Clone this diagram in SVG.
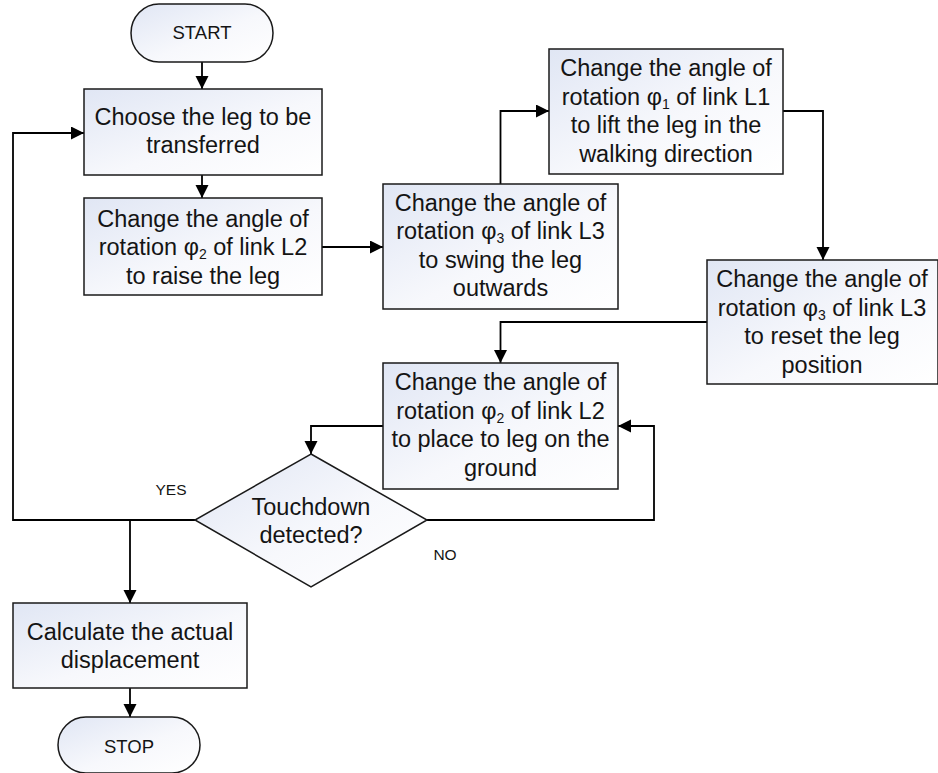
<svg xmlns="http://www.w3.org/2000/svg" width="938" height="773" viewBox="0 0 938 773">
<defs>
<linearGradient id="fillGrad" x1="0" y1="0" x2="1" y2="1">
<stop offset="0" stop-color="#e0e6f4"/>
<stop offset="0.55" stop-color="#f7f8fc"/>
<stop offset="1" stop-color="#ffffff"/>
</linearGradient>
<marker id="arrow" markerUnits="userSpaceOnUse" markerWidth="14" markerHeight="14" refX="13" refY="6.5" orient="auto">
<path d="M0,0 L13,6.5 L0,13 z" fill="#000"/>
</marker>
<style>
.shape { fill: url(#fillGrad); stroke: #1a1a1a; stroke-width: 1.5; }
.conn { fill: none; stroke: #000; stroke-width: 1.8; }
.arr { marker-end: url(#arrow); }
.t { font-family: "Liberation Sans", Arial, sans-serif; font-size: 23.5px; fill: #141414; text-anchor: middle; }
.term { font-family: "Liberation Sans", Arial, sans-serif; font-size: 18.5px; fill: #141414; text-anchor: middle; }
.lbl { font-family: "Liberation Sans", Arial, sans-serif; font-size: 15.5px; fill: #141414; text-anchor: middle; }
.sub { font-size: 14px; }
</style>
</defs>

<g id="connectors">
<path class="conn arr" d="M202,62 L202,89"/>
<path class="conn arr" d="M202,175 L202,198"/>
<path class="conn arr" d="M322,247 L383,247"/>
<path class="conn arr" d="M500.5,184 L500.5,111 L549,111"/>
<path class="conn arr" d="M783,111 L823,111 L823,260"/>
<path class="conn arr" d="M707,322 L500.5,322 L500.5,363"/>
<path class="conn arr" d="M383,426 L311,426 L311,454"/>
<path class="conn arr" d="M427,520 L654,520 L654,426 L618,426"/>
<path class="conn arr" d="M195,520 L13,520 L13,133 L84,133"/>
<path class="conn arr" d="M130,520 L130,603"/>
<path class="conn arr" d="M130,688 L130,717"/>
</g>

<g id="start">
<rect class="shape" x="131" y="4" width="142" height="58" rx="28" ry="29"/>
<text class="term" x="202" y="39">START</text>
</g>

<g id="choose-leg">
<rect class="shape" x="84" y="89" width="238" height="86"/>
<text class="t" x="203" y="125">Choose the leg to be</text>
<text class="t" x="203" y="153">transferred</text>
</g>

<g id="raise-leg">
<rect class="shape" x="84" y="198" width="238" height="97"/>
<text class="t" x="203" y="226.5">Change the angle of</text>
<text class="t" x="203" y="255">rotation φ<tspan class="sub" dy="4">2</tspan><tspan dy="-4"> of link L2</tspan></text>
<text class="t" x="203" y="283.5">to raise the leg</text>
</g>

<g id="swing-leg">
<rect class="shape" x="383" y="184" width="235" height="125"/>
<text class="t" x="500.5" y="210.5">Change the angle of</text>
<text class="t" x="500.5" y="239">rotation φ<tspan class="sub" dy="4">3</tspan><tspan dy="-4"> of link L3</tspan></text>
<text class="t" x="500.5" y="267.5">to swing the leg</text>
<text class="t" x="500.5" y="296">outwards</text>
</g>

<g id="lift-leg">
<rect class="shape" x="549" y="49" width="234" height="125"/>
<text class="t" x="666" y="76">Change the angle of</text>
<text class="t" x="666" y="104.5">rotation φ<tspan class="sub" dy="4">1</tspan><tspan dy="-4"> of link L1</tspan></text>
<text class="t" x="666" y="133">to lift the leg in the</text>
<text class="t" x="666" y="161.5">walking direction</text>
</g>

<g id="reset-leg">
<rect class="shape" x="707" y="260" width="231" height="124"/>
<text class="t" x="822" y="287">Change the angle of</text>
<text class="t" x="822" y="315.5">rotation φ<tspan class="sub" dy="4">3</tspan><tspan dy="-4"> of link L3</tspan></text>
<text class="t" x="822" y="344">to reset the leg</text>
<text class="t" x="822" y="372.5">position</text>
</g>

<g id="place-leg">
<rect class="shape" x="383" y="363" width="235" height="126"/>
<text class="t" x="500.5" y="390">Change the angle of</text>
<text class="t" x="500.5" y="418.5">rotation φ<tspan class="sub" dy="4">2</tspan><tspan dy="-4"> of link L2</tspan></text>
<text class="t" x="500.5" y="447">to place to leg on the</text>
<text class="t" x="500.5" y="475.5">ground</text>
</g>

<g id="touchdown">
<polygon class="shape" points="311,454 427,520 311,587 195,520"/>
<text class="t" x="311" y="515">Touchdown</text>
<text class="t" x="311" y="543">detected?</text>
</g>

<g id="labels">
<text class="lbl" x="171" y="495">YES</text>
<text class="lbl" x="445" y="560">NO</text>
</g>

<g id="calculate">
<rect class="shape" x="13" y="603" width="234" height="85"/>
<text class="t" x="130" y="639.5">Calculate the actual</text>
<text class="t" x="130" y="668">displacement</text>
</g>

<g id="stop">
<rect class="shape" x="58" y="717" width="142" height="56" rx="28" ry="28"/>
<text class="term" x="129" y="753">STOP</text>
</g>
</svg>
